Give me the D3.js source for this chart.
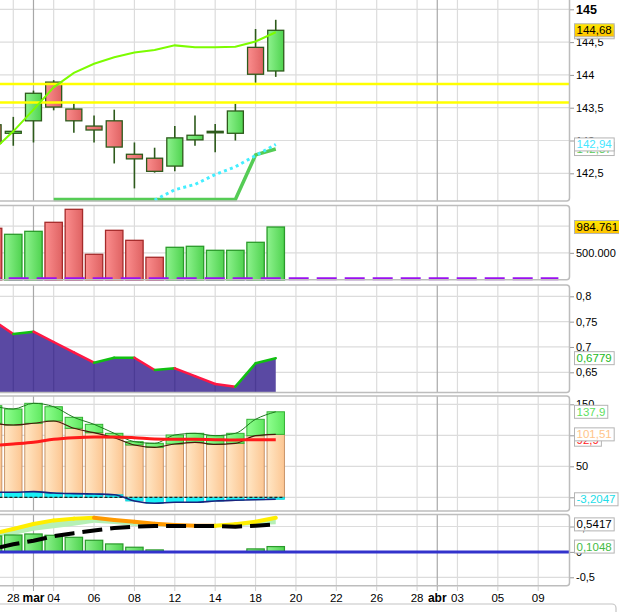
<!DOCTYPE html>
<html>
<head>
<meta charset="utf-8">
<script src="https://cdn.jsdelivr.net/npm/d3@7"></script>
<style>
  body { margin: 0; background: #fff; }
  svg { display: block; }
  text { font-family: "Liberation Sans", Arial, sans-serif; }
</style>
</head>
<body>
<svg id="chart" width="619" height="612"></svg>
<script>
// ---- data ----
const sessions = ["27/02","28/02","01/03","04/03","05/03","06/03","07/03","08/03","11/03","12/03","13/03","14/03","15/03","18/03","19/03"];
const futureSlots = ["20/03","21/03","22/03","25/03","26/03","27/03","28/03","02/04","03/04","04/04","05/04","08/04","09/04","10/04"];
const tickSlots = ["28/02","01/03","04/03","06/03","08/03","12/03","14/03","18/03","20/03","22/03","26/03","28/03","02/04","03/04","05/04","09/04"];
const tickLabels = ["28","mar","04","06","08","12","14","18","20","22","26","28","abr","03","05","09"];
const monthSlots = ["01/03","02/04"];

// price candles
const opens  = [143.24, 143.11, 143.30, 143.89, 143.48, 143.22, 143.30, 142.79, 142.73, 142.61, 143.01, 143.14, 143.11, 144.42, 144.06];
const highs  = [143.40, 143.36, 143.76, 143.92, 143.56, 143.38, 143.47, 142.97, 142.89, 143.22, 143.38, 143.25, 143.56, 144.70, 144.84];
const lows   = [142.85, 142.92, 142.97, 143.46, 143.12, 142.97, 142.65, 142.27, 142.51, 142.53, 142.92, 142.82, 143.00, 143.88, 143.97];
const closes = [142.96, 143.14, 143.72, 143.51, 143.30, 143.16, 142.90, 142.72, 142.53, 143.04, 143.08, 143.14, 143.45, 144.01, 144.68];
const maLine   = [142.85, 143.14, 143.47, 143.81, 144.03, 144.17, 144.27, 144.34, 144.38, 144.45, 144.42, 144.42, 144.43, 144.51, 144.65];
const stopLine = [null, null, null, 142.10, 142.10, 142.10, 142.10, 142.10, 142.10, 142.10, 142.10, 142.10, 142.10, 142.78, 142.87];
const dotLine  = [null, null, null, null, null, null, null, null, 142.09, 142.25, 142.33, 142.48, 142.60, 142.77, 142.94];
const levels   = [143.86, 143.58];

// volume
const volumes = [961000, 848000, 904000, 1073000, 1317000, 473000, 923000, 735000, 417000, 604000, 623000, 548000, 548000, 698000, 984761];

// ratio panel
const ratio = [0.7526, 0.7256, 0.7301, 0.7098, 0.6895, 0.6690, 0.6788, 0.6788, 0.6546, 0.6579, 0.6423, 0.6269, 0.6216, 0.6678, 0.6779];

// oscillator panel
const oscUpper = [147.7, 142.4, 151.6, 146.1, 129.0, 117.7, 103.2, 89.7, 87.1, 100.5, 103.2, 99.4, 103.2, 125.8, 137.9];
const oscMid   = [119.4, 116.6, 119.4, 123.1, 111.3, 104.2, 96.1, 84.4, 80.6, 86.0, 88.7, 85.5, 87.1, 99.4, 101.51];
const oscAvg   = [83.5, 86.0, 88.7, 93.5, 96.1, 97.3, 97.3, 96.1, 94.0, 93.5, 93.5, 92.9, 92.4, 92.9, 92.9];
const oscLow   = [8.1, 8.1, 9.1, 7.0, 6.0, 5.3, 4.2, -6.0, -9.7, -8.1, -8.1, -6.0, -4.8, -3.9, -3.2047];

// macd panel
const macdHist   = [0.314, 0.333, 0.353, 0.327, 0.288, 0.229, 0.157, 0.092, 0.039, 0, 0, 0, 0, 0.059, 0.1048];
const macdSignal = [0.36, 0.45, 0.55, 0.62, 0.655, 0.672, 0.63, 0.594, 0.555, 0.529, 0.516, 0.516, 0.543, 0.594, 0.673];
const macdFill   = [0.30, 0.333, 0.418, 0.465, 0.516, 0.575, 0.549, 0.51, 0.505, 0.50, 0.50, 0.50, 0.505, 0.53, 0.545];
const macdLine   = [0.06, 0.151, 0.22, 0.308, 0.369, 0.42, 0.47, 0.496, 0.51, 0.51, 0.51, 0.51, 0.496, 0.516, 0.5417];

// ---- setup ----
const svg = d3.select('#chart');
const plotRight = 569;
const fmt = d3.formatLocale({decimal: ",", thousands: ".", grouping: [3], currency: ["", ""], minus: "-"});
const allSlots = sessions.concat(futureSlots);
const x = d3.scalePoint().domain(allSlots).range([-6.9, 558.4]);
const sx = (d, i) => x(sessions[i]);

const defs = svg.append('defs');
function hGrad(id, c1, c2) {
    const g = defs.append('linearGradient').attr('id', id).attr('x1', 0).attr('x2', 1).attr('y1', 0).attr('y2', 0);
    g.append('stop').attr('offset', 0).attr('stop-color', c1);
    g.append('stop').attr('offset', 1).attr('stop-color', c2);
}
hGrad('gUp', '#8ef28e', '#4fd34f');
hGrad('gDown', '#fb8e8e', '#df6262');
hGrad('gPeach', '#ffe7c6', '#fcc692');
hGrad('gLime', '#90ff90', '#5fe85f');
const gold = defs.append('linearGradient').attr('id', 'gGold').attr('x1', 0).attr('x2', 0).attr('y1', 0).attr('y2', 1);
gold.append('stop').attr('offset', 0).attr('stop-color', '#ffe800');
gold.append('stop').attr('offset', 1).attr('stop-color', '#ffc200');
defs.append('clipPath').attr('id', 'plotClip').append('rect')
    .attr('x', 0).attr('y', -10).attr('width', plotRight).attr('height', 620);

// Panels (top, bottom)
const panels = [[-4, 201], [205.5, 279.7], [285, 392.5], [396, 511], [514.5, 585.8]];

// Scales for each panel
const pY = d3.scaleLinear().domain([142.5, 145]).range([173.3, 9.3]);
const vY = d3.scaleLinear().domain([0, 1000000]).range([279.5, 226.2]);
const rY = d3.scaleLinear().domain([0.65, 0.8]).range([372.3, 296.3]);
const oY = d3.scaleLinear().domain([0, 150]).range([497.3, 404.3]);
const mY = d3.scaleLinear().domain([-0.5, 0.5]).range([577.3, 526.5]);

// Grid for one panel
function panelGrid(top, bottom, yScale, values) {
    const g = svg.append('g');
    g.selectAll('line.h').data(values).enter().append('line')
        .attr('x1', 0).attr('x2', plotRight)
        .attr('y1', d => yScale(d)).attr('y2', d => yScale(d))
        .attr('stroke', '#dcdcdc').attr('stroke-width', 1.2);
    g.selectAll('line.v').data(tickSlots).enter().append('line')
        .attr('x1', d => x(d)).attr('x2', d => x(d))
        .attr('y1', top).attr('y2', bottom)
        .attr('stroke', d => monthSlots.includes(d) ? '#a8a8a8' : '#dcdcdc')
        .attr('stroke-width', 1.2);
}
panelGrid(-4, 201, pY, [142.5, 143, 143.5, 144, 144.5, 145]);
panelGrid(205.5, 279.7, vY, [500000, 1000000]);
panelGrid(285, 392.5, rY, [0.65, 0.7, 0.75, 0.8]);
panelGrid(396, 511, oY, [0, 50, 100, 150]);
panelGrid(514.5, 585.8, mY, [-0.5, 0, 0.5]);

// Right axis labels
function rightAxis(yScale, values, format) {
    const ax = svg.append('g').attr('transform', `translate(${plotRight},0)`)
        .call(d3.axisRight(yScale).tickValues(values).tickFormat(format).tickSize(5).tickPadding(2));
    ax.select('.domain').remove();
    ax.selectAll('line').attr('stroke', '#999');
    ax.selectAll('text').attr('font-size', 11).attr('fill', '#000')
        .attr('font-family', '"Liberation Sans", Arial, sans-serif');
    return ax;
}
const priceAxis = rightAxis(pY, [142.5, 143, 143.5, 144, 144.5, 145], fmt.format("~f"));
priceAxis.selectAll('text').filter(d => d === 145).attr('font-weight', 'bold').attr('font-size', 12.5);
rightAxis(vY, [500000], fmt.format(",d"));
rightAxis(rY, [0.65, 0.7, 0.75, 0.8], fmt.format("~f"));
rightAxis(oY, [0, 50, 100, 150], fmt.format("~f"));
rightAxis(mY, [-0.5, 0, 0.5], fmt.format("~f"));

const plot = svg.append('g').attr('clip-path', 'url(#plotClip)');

// ---- price panel ----
const candles = plot.append('g');
candles.selectAll('line').data(sessions).enter().append('line')
    .attr('x1', d => x(d)).attr('x2', d => x(d))
    .attr('y1', (d, i) => pY(highs[i])).attr('y2', (d, i) => pY(lows[i]))
    .attr('stroke', '#2d5a1b').attr('stroke-width', 1.6);
candles.selectAll('rect').data(sessions).enter().append('rect')
    .attr('x', d => x(d) - 8).attr('width', 16)
    .attr('y', (d, i) => pY(Math.max(opens[i], closes[i])))
    .attr('height', (d, i) => Math.max(1.5, Math.abs(pY(opens[i]) - pY(closes[i]))))
    .attr('fill', (d, i) => closes[i] > opens[i] ? 'url(#gUp)' : closes[i] < opens[i] ? 'url(#gDown)' : '#2d5a1b')
    .attr('stroke', '#2d5a1b').attr('stroke-width', 1.3);

plot.selectAll('line.level').data(levels).enter().append('line')
    .attr('x1', 0).attr('x2', plotRight)
    .attr('y1', d => pY(d)).attr('y2', d => pY(d))
    .attr('stroke', '#ffff00').attr('stroke-width', 2.5);

const priceLine = d3.line().defined(d => d != null).x(sx).y(d => pY(d));
plot.append('path').attr('d', priceLine(stopLine)).attr('fill', 'none')
    .attr('stroke', '#55cc55').attr('stroke-width', 3.5);
plot.append('path').attr('d', priceLine(dotLine)).attr('fill', 'none')
    .attr('stroke', '#44eeff').attr('stroke-width', 3).attr('stroke-dasharray', '3,3.3');
plot.append('path').attr('d', priceLine(maLine)).attr('fill', 'none')
    .attr('stroke', '#7cfc00').attr('stroke-width', 2);

// ---- volume panel ----
const volUp = closes.map((c, i) => i === 0 ? c >= opens[i] : c >= closes[i - 1]);
plot.selectAll('rect.vol').data(volumes).enter().append('rect')
    .attr('x', (d, i) => sx(d, i) - 8.7).attr('width', 17.4)
    .attr('y', d => vY(d)).attr('height', d => vY(0) - vY(d) + 0.5)
    .attr('fill', (d, i) => volUp[i] ? 'url(#gUp)' : 'url(#gDown)')
    .attr('stroke', (d, i) => volUp[i] ? '#2a9a2a' : '#a52a2a').attr('stroke-width', 1.3);
plot.append('path')
    .attr('d', d3.line().x(d => x(d)).y(() => vY(0) - 0.8)(allSlots))
    .attr('fill', 'none').attr('stroke', '#9a10f0').attr('stroke-width', 3)
    .attr('stroke-dasharray', '20,8').attr('stroke-dashoffset', 12.4);

// ---- ratio panel ----
const ratioArea = d3.area().x(sx).y0(392.5).y1(d => rY(d))(ratio);
plot.append('path').attr('d', ratioArea).attr('fill', '#5a49a3');
// grid lines show faintly through the fill
defs.append('clipPath').attr('id', 'ratioClip').append('path').attr('d', ratioArea);
plot.append('g').attr('clip-path', 'url(#ratioClip)')
    .selectAll('line').data(tickSlots).enter().append('line')
    .attr('x1', d => x(d)).attr('x2', d => x(d)).attr('y1', 285).attr('y2', 392.5)
    .attr('stroke', '#4b3b94').attr('stroke-width', 1.2);
plot.selectAll('line.ratio').data(ratio.slice(1)).enter().append('line')
    .attr('x1', (d, i) => x(sessions[i])).attr('x2', (d, i) => x(sessions[i + 1]))
    .attr('y1', (d, i) => rY(ratio[i])).attr('y2', d => rY(d))
    .attr('stroke', (d, i) => d >= ratio[i] ? '#11c011' : '#ff1744')
    .attr('stroke-width', 2.5).attr('stroke-linecap', 'round');

// ---- oscillator panel ----
plot.selectAll('rect.mid').data(oscMid).enter().append('rect')
    .attr('x', (d, i) => sx(d, i) - 8.7).attr('width', 17.4)
    .attr('y', d => oY(d)).attr('height', d => oY(0) - oY(d))
    .attr('fill', 'url(#gPeach)').attr('stroke', '#c99468').attr('stroke-width', 1);
plot.selectAll('rect.up').data(oscUpper).enter().append('rect')
    .attr('x', (d, i) => sx(d, i) - 8.7).attr('width', 17.4)
    .attr('y', d => oY(d)).attr('height', (d, i) => oY(oscMid[i]) - oY(d))
    .attr('fill', 'url(#gLime)').attr('stroke', '#33b033').attr('stroke-width', 1);
plot.selectAll('rect.low').data(oscLow).enter().append('rect')
    .attr('x', (d, i) => sx(d, i) - 8.7).attr('width', 17.4)
    .attr('y', d => oY(Math.max(0, d))).attr('height', d => Math.abs(oY(d) - oY(0)))
    .attr('fill', '#19f0f5').attr('stroke', '#12c8d0').attr('stroke-width', 0.8);
plot.append('line')
    .attr('x1', x(sessions[0]) - 8.7).attr('x2', x(sessions[sessions.length - 1]) + 8.7)
    .attr('y1', oY(0)).attr('y2', oY(0))
    .attr('stroke', '#222').attr('stroke-width', 1.2).attr('stroke-dasharray', '3,2');
const oscLine = d3.line().x(sx).y(d => oY(d)).curve(d3.curveMonotoneX);
plot.append('path').attr('d', oscLine(oscUpper)).attr('fill', 'none').attr('stroke', '#1f7a1f').attr('stroke-width', 1);
plot.append('path').attr('d', oscLine(oscMid)).attr('fill', 'none').attr('stroke', '#4a180c').attr('stroke-width', 1.2);
plot.append('path').attr('d', oscLine(oscAvg)).attr('fill', 'none').attr('stroke', '#ff1a1a').attr('stroke-width', 3);
plot.append('path').attr('d', oscLine(oscLow)).attr('fill', 'none').attr('stroke', '#1a237e').attr('stroke-width', 1.6);

// ---- macd panel ----
plot.append('path')
    .attr('d', d3.area().x(sx).y0((d, i) => mY(macdFill[i])).y1(d => mY(d))(macdSignal))
    .attr('fill', '#b6f0b6');
plot.selectAll('rect.hist').data(macdHist).enter().append('rect')
    .attr('x', (d, i) => sx(d, i) - 8.7).attr('width', 17.4)
    .attr('y', d => mY(d)).attr('height', d => mY(0) - mY(d))
    .attr('fill', 'url(#gUp)').attr('stroke', '#2a9a2a').attr('stroke-width', 1.2)
    .attr('display', d => d > 0 ? null : 'none');
plot.append('line').attr('x1', 0).attr('x2', plotRight)
    .attr('y1', mY(0)).attr('y2', mY(0))
    .attr('stroke', '#3333cc').attr('stroke-width', 3);
plot.selectAll('line.sig').data(macdSignal.slice(1)).enter().append('line')
    .attr('x1', (d, i) => x(sessions[i])).attr('x2', (d, i) => x(sessions[i + 1]))
    .attr('y1', (d, i) => mY(macdSignal[i])).attr('y2', d => mY(d))
    .attr('stroke', (d, i) => d > macdSignal[i] ? '#ffee00' : '#ff9900')
    .attr('stroke-width', 4).attr('stroke-linecap', 'round');
plot.append('path').attr('d', d3.line().x(sx).y(d => mY(d))(macdLine))
    .attr('fill', 'none').attr('stroke', '#000').attr('stroke-width', 4)
    .attr('stroke-dasharray', '20,8').attr('stroke-dashoffset', 21.1);

// ---- panel borders ----
svg.selectAll('rect.panel').data(panels).enter().append('rect')
    .attr('x', -3).attr('width', plotRight + 3.5)
    .attr('y', d => d[0]).attr('height', d => d[1] - d[0])
    .attr('rx', 3).attr('fill', 'none').attr('stroke', '#bdbdbd').attr('stroke-width', 1.5);

// ---- value tags on the right ----
function tag(y, text, color, fill) {
    const g = svg.append('g');
    const t = g.append('text').attr('x', 576.5).attr('y', y + 4).text(text)
        .attr('fill', color).attr('font-size', 11.5);
    const w = t.node().getComputedTextLength();
    g.insert('rect', 'text').attr('x', 574.5).attr('y', y - 6.5)
        .attr('width', w + 4.5).attr('height', 13)
        .attr('fill', fill || '#fff').attr('stroke', '#b4b4b4').attr('stroke-width', 1);
}
const last = sessions.length - 1;
tag(pY(stopLine[last]), fmt.format(".2f")(stopLine[last]), '#55cc55');
tag(pY(dotLine[last]), fmt.format(".2f")(dotLine[last]), '#44e6ff');
tag(pY(maLine[last]), fmt.format(".2f")(maLine[last]), '#7cfc00');
tag(pY(closes[last]), fmt.format(".2f")(closes[last]), '#000', 'url(#gGold)');
tag(vY(volumes[last]), fmt.format(",d")(volumes[last]), '#000', 'url(#gGold)');
tag(rY(ratio[last]), fmt.format(".4f")(ratio[last]), '#22b822');
tag(oY(oscUpper[last]), fmt.format(".1f")(oscUpper[last]), '#5ee05e');
tag(oY(oscAvg[last]), fmt.format(".1f")(oscAvg[last]), '#ff1a1a');
tag(oY(oscMid[last]), fmt.format(".2f")(oscMid[last]), '#ffc48a');
tag(oY(oscLow[last]), fmt.format(".4f")(oscLow[last]), '#22dde8');
tag(mY(macdLine[last]), fmt.format(".4f")(macdLine[last]), '#000');
tag(mY(macdHist[last]), fmt.format(".4f")(macdHist[last]), '#44bb44');

// ---- bottom date axis ----
const dateAxis = svg.append('g');
dateAxis.selectAll('line').data(tickSlots).enter().append('line')
    .attr('x1', d => x(d)).attr('x2', d => x(d)).attr('y1', 586).attr('y2', 591)
    .attr('stroke', d => monthSlots.includes(d) ? '#a8a8a8' : '#cfcfcf');
dateAxis.selectAll('text').data(tickSlots).enter().append('text')
    .attr('x', d => x(d)).attr('y', 601.5).attr('text-anchor', 'middle')
    .attr('font-size', (d, i) => monthSlots.includes(d) ? 12 : 11.5)
    .attr('font-weight', d => monthSlots.includes(d) ? 'bold' : 'normal')
    .attr('fill', '#000')
    .text((d, i) => tickLabels[i]);

// toolbar strip at the very bottom
svg.append('rect').attr('x', -5).attr('y', 604).attr('width', 621).attr('height', 20)
    .attr('rx', 4).attr('fill', 'none').attr('stroke', '#c4c4c4').attr('stroke-width', 1.2);
</script>
</body>
</html>
